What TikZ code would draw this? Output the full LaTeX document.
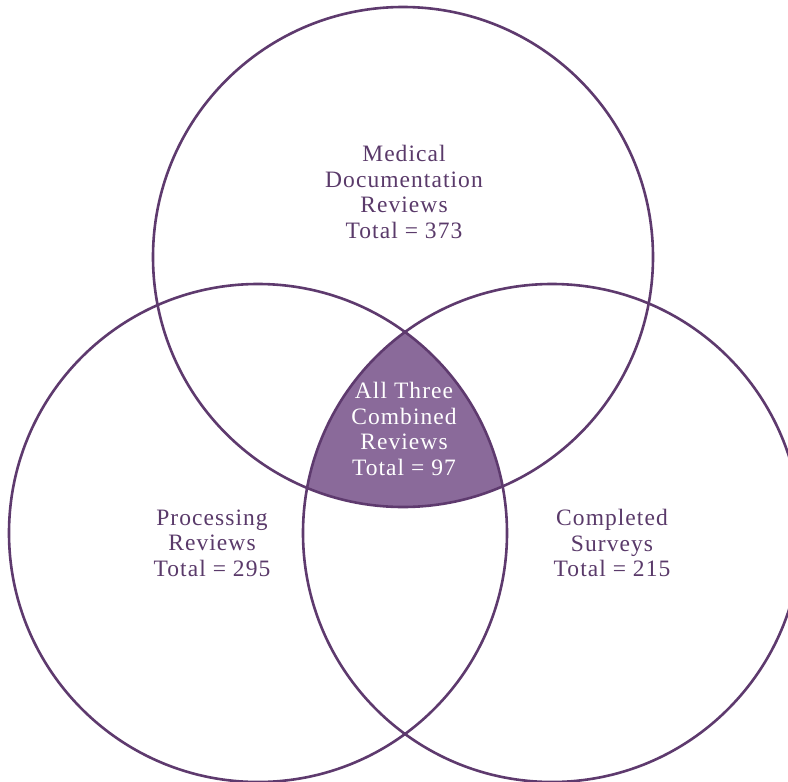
\documentclass[tikz,border=0pt]{standalone}
\usepackage{fontspec}
\setmainfont[LetterSpace=4.5]{Liberation Serif}
\definecolor{vline}{HTML}{5E3A6E}
\definecolor{vfill}{HTML}{8A6A9A}
\definecolor{vtext}{HTML}{5A3A6A}
\begin{document}
\begin{tikzpicture}[x=1pt,y=-1pt,
  ring/.style={draw=vline,line width=2.6pt},
  lab/.style={align=center,text=vtext,font=\fontsize{23.5}{25.5}\selectfont,inner sep=0pt},
  wlab/.style={lab,text=white}]
\useasboundingbox (0,0) rectangle (788,782);
\clip (0,0) rectangle (788,782);
\fill[white] (0,0) rectangle (788,782);
\coordinate (ct) at (403,257);
\coordinate (cl) at (258,533);
\coordinate (cr) at (552,533);
\begin{scope}
  \clip (ct) circle (250);
  \clip (cl) circle (249);
  \fill[vfill] (cr) circle (249);
\end{scope}
\draw[ring] (ct) circle (250);
\draw[ring] (cl) circle (249);
\draw[ring] (cr) circle (249);
\node[lab] (med) at (404,192) {Medical\\Documentation\\Reviews\\Total = 373};
\node[wlab] (all) at (404,429) {All Three\\Combined\\Reviews\\Total = 97};
\node[lab] (proc) at (212,543) {Processing\\Reviews\\Total = 295};
\node[lab] (comp) at (612,543) {Completed\\Surveys\\Total = 215};
\end{tikzpicture}
\end{document}
